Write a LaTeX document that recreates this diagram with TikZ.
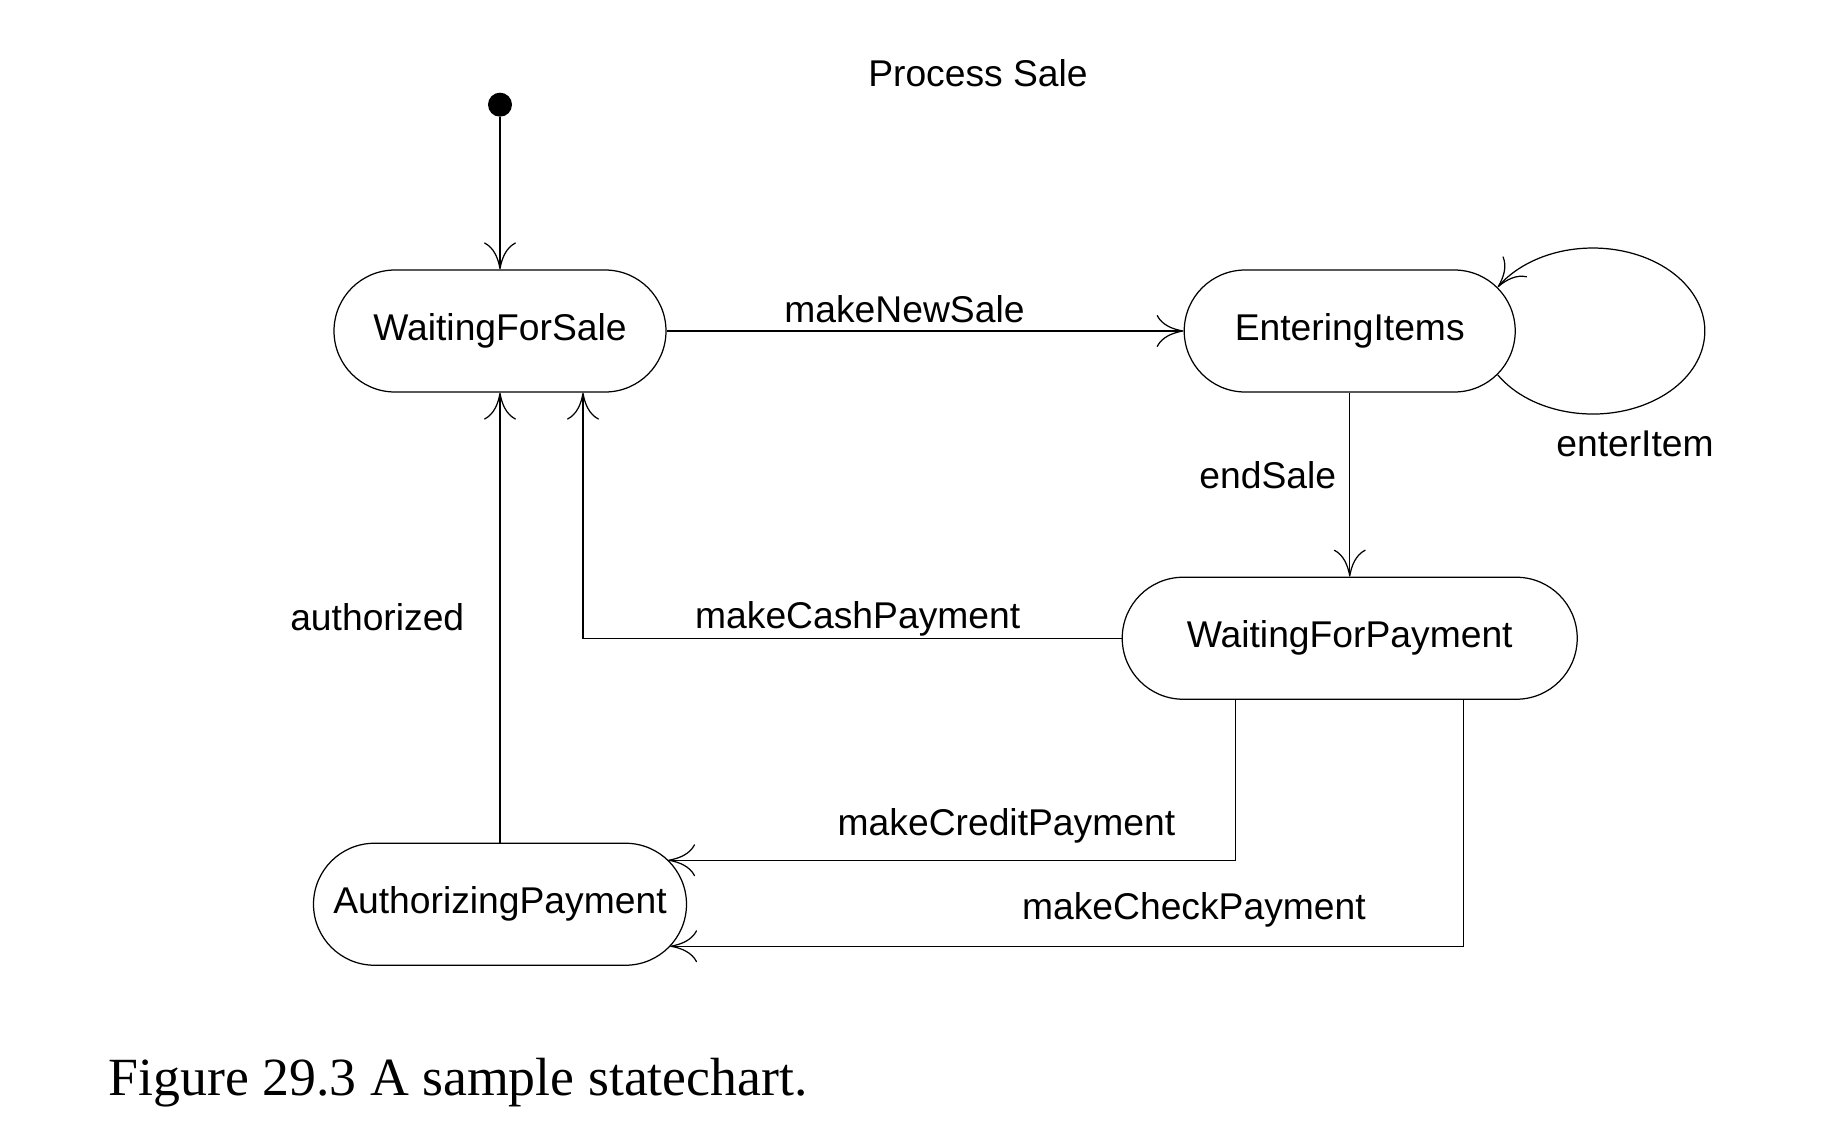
\documentclass[tikz,border=0pt]{standalone}
\usepackage{fontspec}
\setmainfont{Liberation Serif}
\setsansfont{Liberation Sans}
\usetikzlibrary{arrows.meta, positioning}

\begin{document}
\begin{tikzpicture}[
  state/.style={rectangle, rounded corners=0.61cm, draw, line width=0.35pt, minimum height=1.22cm,
               inner sep=0pt, font=\sffamily\fontsize{10.6}{13}\selectfont},
  lbl/.style={inner sep=0pt, font=\sffamily\fontsize{10.6}{13}\selectfont},
  arr/.style={-{Computer Modern Rightarrow[length=2.7mm, width=3.2mm]}, line width=0.35pt}
]
\useasboundingbox (0,0) rectangle (18.26,-11.28);
\node[lbl, anchor=base] (title) at (9.78,-0.86) {Process Sale};
\node[state, minimum width=3.32cm] (wfs) at (5.00,-3.31) {WaitingForSale};
\node[circle, fill, inner sep=0pt, minimum size=0.24cm, above=1.52cm of wfs] (init) {};
\node[state, minimum width=3.31cm, right=5.17cm of wfs] (ei) {EnteringItems};
\node[state, minimum width=4.55cm, below=1.84cm of ei] (wfp) {WaitingForPayment};
\node[state, minimum width=3.73cm, below=4.5cm of wfs] (ap) {AuthorizingPayment};
\node[lbl, anchor=base] (enter) at (16.35,-4.56) {enterItem};
\node[anchor=base west, inner sep=0pt, font=\fontsize{15.3}{18}\selectfont] (caption) at (1.08,-10.95) {Figure 29.3 A sample statechart.};

\draw[arr] (init) -- (wfs);
\draw[arr] (wfs) -- node[lbl, pos=0.46, above=2.1pt]{makeNewSale} (ei);
\draw[arr] ([xshift=-0.18cm, yshift=-0.44cm]ei.east) arc[start angle=-148, end angle=148, x radius=1.12cm, y radius=0.83cm];
\draw[arr] (ei) -- node[lbl, pos=0.45, left=3.7pt]{endSale} (wfp);
\draw[arr] (wfp.west) -| node[lbl, pos=0.245, above=0.5pt]{makeCashPayment} ([xshift=0.83cm]wfs.south);
\draw[arr] (ap) -- node[lbl, left=10pt]{authorized} (wfs);
\draw[arr] ([xshift=-1.14cm]wfp.south) |- node[lbl, pos=0.702, above=4.7pt]{makeCreditPayment} ([xshift=-0.19cm, yshift=0.44cm]ap.east);
\draw[arr] ([xshift=1.14cm]wfp.south) |- node[lbl, pos=0.67, above=5.3pt]{makeCheckPayment} ([xshift=-0.17cm, yshift=-0.42cm]ap.east);
\end{tikzpicture}
\end{document}
